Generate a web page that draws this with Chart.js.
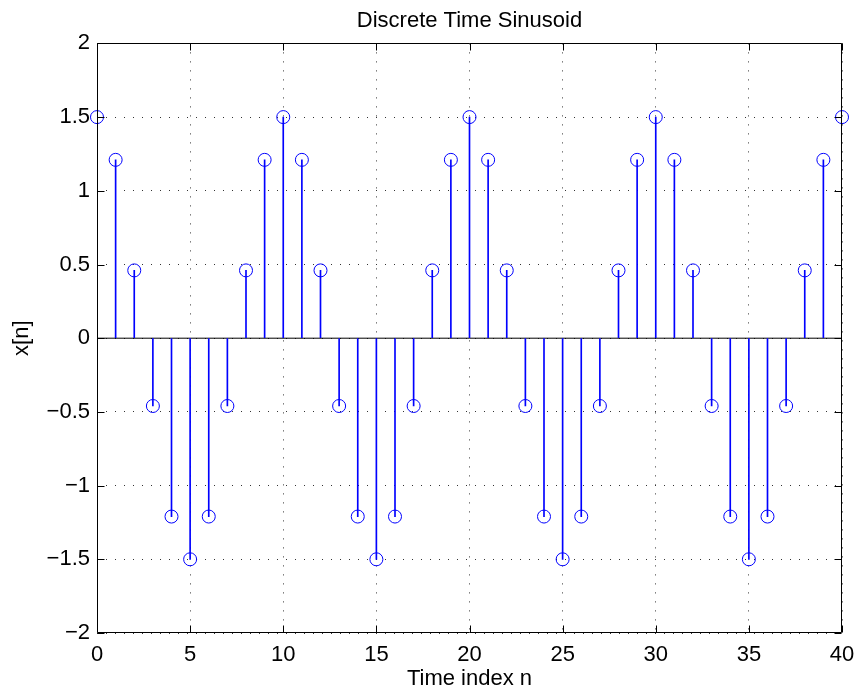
<!DOCTYPE html>
<html>
<head>
<meta charset="utf-8">
<title>Discrete Time Sinusoid</title>
<script src="https://cdn.jsdelivr.net/npm/chart.js@4.4.1/dist/chart.umd.min.js"></script>
<style>
  html, body { margin: 0; padding: 0; background: #fff; }
  #wrap { width: 856px; height: 692px; }
</style>
</head>
<body>
<div id="wrap"><canvas id="grafico"></canvas></div>
<script>
// indices n = 0..40
var indices = [0, 1, 2, 3, 4, 5, 6, 7, 8, 9,
               10, 11, 12, 13, 14, 15, 16, 17, 18, 19,
               20, 21, 22, 23, 24, 25, 26, 27, 28, 29,
               30, 31, 32, 33, 34, 35, 36, 37, 38, 39, 40];

// x[n]
var valores = [1.5, 1.21, 0.46, -0.46, -1.21, -1.5, -1.21, -0.46, 0.46, 1.21,
               1.5, 1.21, 0.46, -0.46, -1.21, -1.5, -1.21, -0.46, 0.46, 1.21,
               1.5, 1.21, 0.46, -0.46, -1.21, -1.5, -1.21, -0.46, 0.46, 1.21,
               1.5, 1.21, 0.46, -0.46, -1.21, -1.5, -1.21, -0.46, 0.46, 1.21,
               1.5];

var xTicks = [0, 5, 10, 15, 20, 25, 30, 35, 40];
var yTicks = [-2, -1.5, -1, -0.5, 0, 0.5, 1, 1.5, 2];

var fonte = "'Liberation Sans', Arial, Helvetica, sans-serif";
var azul = 'rgb(0, 0, 255)';

// caixa preta com marcas de escala para dentro (estilo matlab)
var moldura = {
    id: 'moldura',
    afterDatasetsDraw: function (chart) {
        var ctx = chart.ctx;
        var a = chart.chartArea;
        var sx = chart.scales.x;
        var sy = chart.scales.y;
        var L = Math.round(a.left) + 0.5, R = Math.round(a.right) - 0.5;
        var T = Math.round(a.top) + 0.5, B = Math.round(a.bottom) - 0.5;
        var tam = 7;
        ctx.save();
        ctx.strokeStyle = '#000';
        ctx.lineWidth = 1;
        ctx.beginPath();
        ctx.rect(L, T, R - L, B - T);
        for (var i = 0; i < xTicks.length; i++) {
            var px = Math.round(sx.getPixelForValue(xTicks[i])) + 0.5;
            ctx.moveTo(px, B); ctx.lineTo(px, B - tam);
            ctx.moveTo(px, T); ctx.lineTo(px, T + tam);
        }
        for (var j = 0; j < yTicks.length; j++) {
            var py = Math.round(sy.getPixelForValue(yTicks[j])) + 0.5;
            ctx.moveTo(L, py); ctx.lineTo(L + tam, py);
            ctx.moveTo(R, py); ctx.lineTo(R - tam, py);
        }
        ctx.stroke();
        ctx.restore();
    }
};

const dados = {
    datasets: [
        {
            type: 'scatter',
            label: 'x[n]',
            data: indices.map(function (n, i) { return { x: n, y: valores[i] }; }),
            showLine: false,
            clip: false,
            pointStyle: 'circle',
            pointRadius: 6.5,
            pointHoverRadius: 6.5,
            pointBorderWidth: 1,
            borderColor: azul,
            backgroundColor: 'rgba(0,0,0,0)',
            order: 0
        },
        {
            type: 'bar',
            label: 'hastes',
            data: indices.map(function (n, i) { return { x: n, y: [0, valores[i]] }; }),
            backgroundColor: azul,
            borderWidth: 0,
            barThickness: 1,
            order: 1
        },
        {
            type: 'line',
            label: 'base',
            data: [{ x: indices[0], y: 0 }, { x: indices[indices.length - 1], y: 0 }],
            borderColor: '#000',
            borderWidth: 1,
            pointRadius: 0,
            fill: false,
            order: 2
        }
    ]
};

const config = {
    type: 'scatter',
    data: dados,
    options: {
        responsive: true,
        maintainAspectRatio: false,
        animation: false,
        events: [],
        layout: { padding: { left: 0, right: 14, top: 0, bottom: 0 } },
        plugins: {
            legend: { display: false },
            tooltip: { enabled: false },
            title: {
                display: true,
                fullSize: false,
                text: 'Discrete Time Sinusoid',
                color: '#000',
                font: { family: fonte, size: 22, weight: 'normal' },
                padding: { top: 8, bottom: 9 }
            }
        },
        scales: {
            x: {
                type: 'linear',
                min: 0,
                max: 40,
                offset: false,
                afterFit: function (s) {
                    s.height = 59;
                    s.paddingLeft = 0;
                    s.paddingRight = 0;
                },
                afterBuildTicks: function (s) { s.ticks = xTicks.map(function (v) { return { value: v }; }); },
                ticks: {
                    color: '#000',
                    font: { family: fonte, size: 22 },
                    padding: 9,
                    maxRotation: 0,
                    autoSkip: false
                },
                grid: { color: '#333', lineWidth: 1, drawTicks: false, offset: false },
                border: { display: false, dash: [1, 8] },
                title: {
                    display: true,
                    text: 'Time index n',
                    color: '#000',
                    font: { family: fonte, size: 22 },
                    padding: { top: 0, bottom: 0 }
                }
            },
            y: {
                min: -2,
                max: 2,
                afterFit: function (s) {
                    s.width = 97;
                    s.paddingTop = 0;
                    s.paddingBottom = 0;
                },
                afterBuildTicks: function (s) { s.ticks = yTicks.map(function (v) { return { value: v }; }); },
                ticks: {
                    color: '#000',
                    font: { family: fonte, size: 22 },
                    padding: 7,
                    autoSkip: false,
                    callback: function (v) { return String(v).replace('-', '\u2212'); }
                },
                grid: { color: '#333', lineWidth: 1, drawTicks: false },
                border: { display: false, dash: [1, 8] },
                title: {
                    display: true,
                    text: 'x[n]',
                    color: '#000',
                    font: { family: fonte, size: 22 },
                    padding: { top: 9, bottom: 0 }
                }
            }
        }
    },
    plugins: [moldura]
};

const grafico = new Chart(document.getElementById('grafico'), config);
</script>
</body>
</html>
